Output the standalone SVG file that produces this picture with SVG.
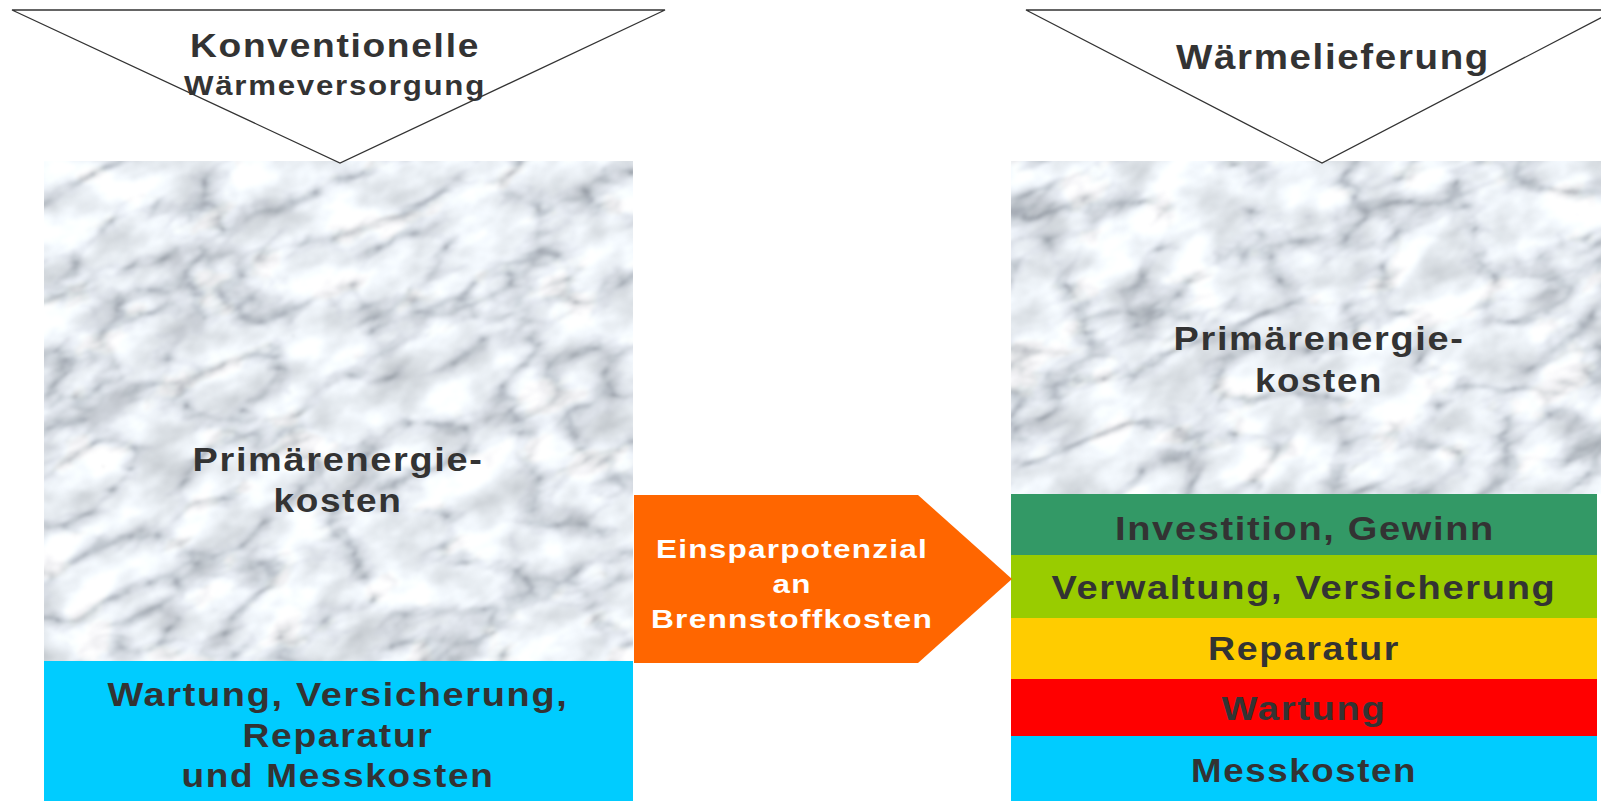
<svg xmlns="http://www.w3.org/2000/svg" width="1601" height="801" viewBox="0 0 1601 801">
<defs>
<style>
.t{font-family:"Liberation Sans",Arial,Helvetica,sans-serif;font-weight:bold;fill:#333333;text-anchor:middle;letter-spacing:1.5px}
.w{fill:#ffffff;letter-spacing:1px}
.tri{fill:#ffffff;stroke:#333333;stroke-width:1.3}
.marble{fill:#e6e8ea}
</style>
<filter id="marbleTex" x="0" y="0" width="1" height="1" color-interpolation-filters="sRGB">
<feTurbulence type="fractalNoise" baseFrequency="0.016 0.026" numOctaves="4" seed="2" result="base"/>
<feColorMatrix in="base" type="matrix" values="0.4 0 0 0 0.73  0.4 0 0 0 0.75  0.4 0 0 0 0.77  0 0 0 0 1" result="baseC"/>
<feTurbulence type="turbulence" baseFrequency="0.010 0.02" numOctaves="4" seed="5" result="v"/>
<feColorMatrix in="v" type="matrix" values="1 0 0 0 0  1 0 0 0 0  1 0 0 0 0  0 0 0 0 1" result="vg"/>
<feComponentTransfer in="vg" result="vm">
<feFuncR type="table" tableValues="0.68 0.78 0.87 0.93 0.97 1 1 1 1 1 1 1 1 1 1 1"/>
<feFuncG type="table" tableValues="0.69 0.79 0.88 0.93 0.97 1 1 1 1 1 1 1 1 1 1 1"/>
<feFuncB type="table" tableValues="0.71 0.81 0.89 0.94 0.98 1 1 1 1 1 1 1 1 1 1 1"/>
</feComponentTransfer>
<feBlend in="baseC" in2="vm" mode="multiply" result="mix"/>
<feGaussianBlur in="mix" stdDeviation="1.6" result="soft"/>
<feComposite in="soft" in2="SourceGraphic" operator="in"/>
</filter>
<clipPath id="clipL"><rect x="44" y="161" width="589" height="500"/></clipPath>
<clipPath id="clipR"><rect x="1011" y="161" width="590" height="333"/></clipPath>
</defs>

<g id="node-marmor-links" clip-path="url(#clipL)">
<rect class="marble" x="-52" y="11" width="780" height="800"/>
<rect class="marble" x="-52" y="11" width="780" height="800" transform="rotate(-22 338 411)" filter="url(#marbleTex)"/>
</g>
<g id="node-marmor-rechts" clip-path="url(#clipR)">
<rect class="marble" x="956" y="-73" width="700" height="800"/>
<rect class="marble" x="956" y="-73" width="700" height="800" transform="rotate(-22 1306 327)" filter="url(#marbleTex)"/>
</g>

<g id="node-primaer-links">
<text class="t" x="338" y="471" font-size="34" textLength="291" lengthAdjust="spacingAndGlyphs">Primärenergie-</text>
<text class="t" x="338" y="512" font-size="34" textLength="129" lengthAdjust="spacingAndGlyphs">kosten</text>
</g>

<g id="node-wartung-links">
<rect x="44" y="661" width="589" height="140" fill="#00ccff"/>
<text class="t" x="338" y="706" font-size="33" textLength="461" lengthAdjust="spacingAndGlyphs">Wartung, Versicherung,</text>
<text class="t" x="338" y="747" font-size="33" textLength="191" lengthAdjust="spacingAndGlyphs">Reparatur</text>
<text class="t" x="338" y="787" font-size="33" textLength="313" lengthAdjust="spacingAndGlyphs">und Messkosten</text>
</g>

<g id="node-primaer-rechts">
<text class="t" x="1319" y="350" font-size="34" textLength="291" lengthAdjust="spacingAndGlyphs">Primärenergie-</text>
<text class="t" x="1319" y="392" font-size="34" textLength="128" lengthAdjust="spacingAndGlyphs">kosten</text>
</g>

<g id="node-investition">
<rect x="1011" y="494" width="586" height="61" fill="#339966"/>
<text class="t" x="1305" y="540" font-size="34" textLength="380" lengthAdjust="spacingAndGlyphs">Investition, Gewinn</text>
</g>
<g id="node-verwaltung">
<rect x="1011" y="555" width="586" height="63" fill="#99cc00"/>
<text class="t" x="1304" y="599" font-size="34" textLength="505" lengthAdjust="spacingAndGlyphs">Verwaltung, Versicherung</text>
</g>
<g id="node-reparatur">
<rect x="1011" y="618" width="586" height="61" fill="#ffcc00"/>
<text class="t" x="1304" y="660" font-size="34" textLength="192" lengthAdjust="spacingAndGlyphs">Reparatur</text>
</g>
<g id="node-wartung">
<rect x="1011" y="679" width="586" height="57" fill="#ff0000"/>
<text class="t" x="1304" y="720" font-size="34" textLength="165" lengthAdjust="spacingAndGlyphs">Wartung</text>
</g>
<g id="node-messkosten">
<rect x="1011" y="736" width="586" height="65" fill="#00ccff"/>
<text class="t" x="1304" y="782" font-size="34" textLength="226" lengthAdjust="spacingAndGlyphs">Messkosten</text>
</g>

<g id="node-konventionell">
<polygon class="tri" points="12,10 665,10 340,163"/>
<text class="t" x="335" y="57" font-size="33" textLength="290" lengthAdjust="spacingAndGlyphs">Konventionelle</text>
<text class="t" x="335" y="95" font-size="27" textLength="302" lengthAdjust="spacingAndGlyphs">Wärmeversorgung</text>
</g>

<g id="node-waermelieferung">
<polygon class="tri" points="1026,10 1616,10 1322,163"/>
<text class="t" x="1333" y="69" font-size="35" textLength="314" lengthAdjust="spacingAndGlyphs">Wärmelieferung</text>
</g>

<g id="connectors">
<polygon points="634,495 918,495 1012,579 918,663 634,663" fill="#ff6600"/>
<text class="t w" x="792" y="558" font-size="26" textLength="272" lengthAdjust="spacingAndGlyphs">Einsparpotenzial</text>
<text class="t w" x="792" y="593" font-size="26" textLength="39" lengthAdjust="spacingAndGlyphs">an</text>
<text class="t w" x="792" y="628" font-size="26" textLength="282" lengthAdjust="spacingAndGlyphs">Brennstoffkosten</text>
</g>
</svg>
